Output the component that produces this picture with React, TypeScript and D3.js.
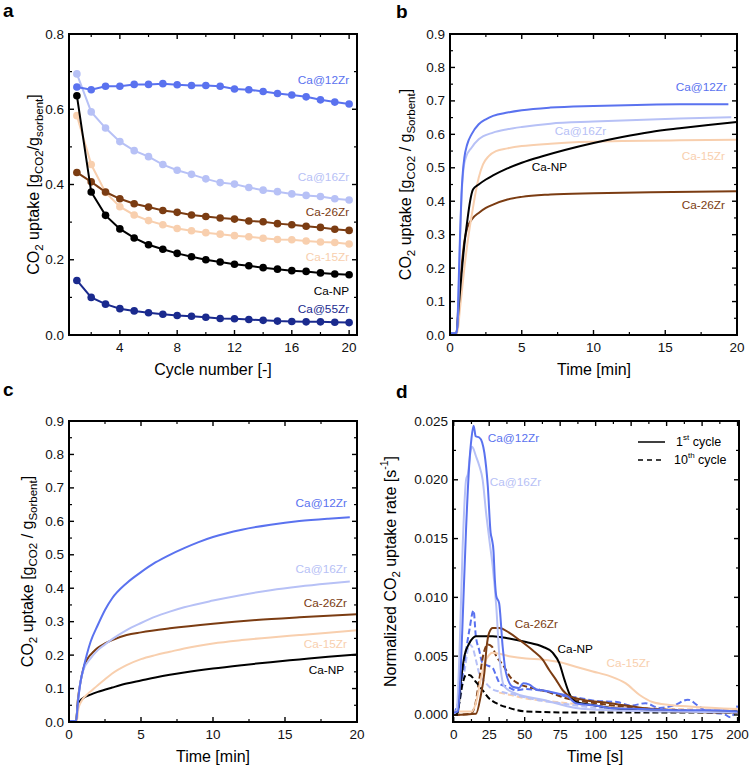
import React from 'react';
import * as d3 from 'd3';

type Pt = [number, number];

// ---------- Panel a data ----------
const cycles = [1, 2, 3, 4, 5, 6, 7, 8, 9, 10, 11, 12, 13, 14, 15, 16, 17, 18, 19, 20];
const aCa12Zr = [0.659, 0.652, 0.661, 0.661, 0.666, 0.666, 0.668, 0.665, 0.663, 0.663, 0.661, 0.654, 0.652, 0.647, 0.642, 0.638, 0.633, 0.625, 0.619, 0.614];
const aCa16Zr = [0.694, 0.593, 0.55, 0.514, 0.49, 0.474, 0.453, 0.438, 0.427, 0.415, 0.405, 0.401, 0.392, 0.385, 0.381, 0.375, 0.371, 0.368, 0.362, 0.359];
const aCa26Zr = [0.432, 0.407, 0.38, 0.362, 0.349, 0.34, 0.331, 0.326, 0.319, 0.315, 0.311, 0.308, 0.303, 0.301, 0.296, 0.293, 0.289, 0.286, 0.281, 0.278];
const aCa15Zr = [0.583, 0.453, 0.379, 0.341, 0.319, 0.304, 0.293, 0.283, 0.277, 0.272, 0.268, 0.264, 0.261, 0.257, 0.254, 0.253, 0.25, 0.247, 0.246, 0.242];
const aCaNP = [0.636, 0.38, 0.318, 0.282, 0.258, 0.24, 0.228, 0.217, 0.208, 0.2, 0.194, 0.188, 0.184, 0.179, 0.175, 0.171, 0.169, 0.165, 0.162, 0.16];
const aCa55Zr = [0.145, 0.1, 0.082, 0.07, 0.064, 0.059, 0.055, 0.052, 0.05, 0.047, 0.044, 0.043, 0.041, 0.039, 0.037, 0.036, 0.035, 0.035, 0.034, 0.033];

// ---------- Panel b data (time [min], uptake) ----------
const bCa12Zr: Pt[] = [[0, 0.005], [0.4, 0.005], [0.5, 0.02], [0.6, 0.15], [0.7, 0.3], [0.8, 0.42], [0.9, 0.49], [1.0, 0.53], [1.2, 0.57], [1.5, 0.6], [2, 0.63], [2.5, 0.645], [3, 0.655], [4, 0.665], [5, 0.672], [7, 0.68], [10, 0.685], [13, 0.688], [16, 0.69], [19.4, 0.69]];
const bCa16Zr: Pt[] = [[0, 0.005], [0.45, 0.005], [0.55, 0.05], [0.65, 0.2], [0.75, 0.35], [0.85, 0.45], [0.95, 0.5], [1.1, 0.53], [1.5, 0.56], [2, 0.585], [3, 0.605], [4, 0.615], [5, 0.622], [7, 0.632], [10, 0.638], [13, 0.643], [16, 0.647], [19.6, 0.651]];
const bCaNP: Pt[] = [[0, 0.005], [0.45, 0.005], [0.6, 0.08], [0.8, 0.18], [1.0, 0.27], [1.2, 0.34], [1.4, 0.4], [1.6, 0.435], [2, 0.45], [2.5, 0.465], [3, 0.477], [4, 0.498], [5, 0.515], [6.5, 0.535], [8, 0.553], [10, 0.574], [12, 0.592], [14, 0.607], [16, 0.618], [18, 0.628], [20, 0.637]];
const bCa15Zr: Pt[] = [[0, 0.005], [0.5, 0.005], [0.7, 0.08], [1.0, 0.2], [1.3, 0.3], [1.6, 0.38], [1.8, 0.43], [2.0, 0.47], [2.3, 0.51], [2.7, 0.535], [3.2, 0.55], [4, 0.558], [5, 0.565], [7, 0.572], [9, 0.577], [12, 0.58], [16, 0.582], [20, 0.584]];
const bCa26Zr: Pt[] = [[0, 0.005], [0.45, 0.005], [0.6, 0.1], [0.8, 0.2], [1.0, 0.28], [1.2, 0.32], [1.5, 0.345], [2, 0.365], [2.5, 0.38], [3, 0.39], [4, 0.405], [5, 0.413], [7, 0.42], [10, 0.424], [14, 0.427], [20, 0.43]];

// ---------- Panel c data ----------
const cCa12Zr: Pt[] = [[0, 0.003], [0.5, 0.003], [0.6, 0.05], [0.8, 0.12], [1, 0.16], [1.5, 0.24], [2, 0.29], [2.5, 0.335], [3, 0.37], [4, 0.415], [5, 0.448], [6, 0.477], [7, 0.5], [8, 0.52], [9, 0.538], [10, 0.553], [12, 0.575], [14, 0.59], [16, 0.601], [18, 0.608], [19.5, 0.612]];
const cCa16Zr: Pt[] = [[0, 0.003], [0.5, 0.003], [0.6, 0.05], [0.8, 0.12], [1, 0.155], [1.5, 0.19], [2, 0.215], [2.5, 0.232], [3, 0.248], [4, 0.275], [5, 0.296], [6, 0.315], [7, 0.33], [8, 0.343], [10, 0.363], [12, 0.38], [14, 0.394], [16, 0.405], [18, 0.414], [19.5, 0.42]];
const cCa26Zr: Pt[] = [[0, 0.003], [0.5, 0.003], [0.6, 0.06], [0.8, 0.12], [1, 0.16], [1.3, 0.19], [1.7, 0.21], [2, 0.222], [2.5, 0.235], [3, 0.245], [4, 0.26], [5, 0.268], [7, 0.28], [10, 0.294], [13, 0.305], [16, 0.313], [20, 0.322]];
const cCa15Zr: Pt[] = [[0, 0.003], [0.55, 0.003], [0.65, 0.04], [0.9, 0.065], [1.2, 0.08], [1.6, 0.095], [2, 0.11], [2.5, 0.128], [3, 0.145], [4, 0.17], [5, 0.188], [6, 0.2], [7, 0.21], [8, 0.22], [10, 0.235], [12, 0.245], [14, 0.253], [16, 0.26], [18, 0.267], [20, 0.274]];
const cCaNP: Pt[] = [[0, 0.003], [0.5, 0.003], [0.6, 0.05], [0.8, 0.065], [1, 0.072], [1.5, 0.082], [2, 0.09], [3, 0.103], [4, 0.115], [5, 0.124], [6, 0.133], [7, 0.141], [8, 0.148], [10, 0.16], [12, 0.17], [14, 0.179], [16, 0.187], [18, 0.195], [20, 0.202]];

// ---------- Panel d data (time [s], rate) ----------
const dCa12Zr1: Pt[] = [[0, 0.0002], [3, 0.0003], [5, 0.004], [6.5, 0.0087], [8.7, 0.0158], [11, 0.0214], [12.5, 0.0235], [14, 0.0246], [15.5, 0.0237], [18, 0.0236], [20, 0.0232], [21.6, 0.0223], [24, 0.0195], [26, 0.0155], [27, 0.0149], [28, 0.014], [29, 0.0115], [30, 0.0101], [32, 0.0095], [34.5, 0.0058], [36.8, 0.0036], [41.5, 0.0024], [46, 0.0023], [49, 0.0027], [53, 0.0026], [58, 0.0022], [62.7, 0.0021], [74, 0.0018], [80, 0.0016], [86, 0.001], [100, 0.0008], [110, 0.0006], [133, 0.0005], [160, 0.0004], [180, 0.0004], [200, 0.0003]];
const dCa16Zr1: Pt[] = [[0, 0.0001], [2, 0.0003], [4, 0.005], [6.3, 0.0143], [8.7, 0.02], [10, 0.0205], [12, 0.0225], [13, 0.0228], [15.7, 0.022], [18, 0.0212], [20.4, 0.02], [22.8, 0.0172], [25, 0.015], [27.5, 0.0126], [30, 0.0092], [32, 0.0053], [35.7, 0.0024], [44, 0.0018], [62.7, 0.0013], [86, 0.0006], [110, 0.0004], [150, 0.0003], [200, 0.0002]];
const dCaNP1: Pt[] = [[0, 0], [2.8, 0.0002], [5.2, 0.003], [7.5, 0.005], [11, 0.0061], [15.7, 0.0067], [27.5, 0.0067], [39, 0.0065], [51, 0.0062], [62.7, 0.0058], [69.7, 0.0053], [74.4, 0.0044], [78, 0.003], [81.5, 0.0018], [86, 0.0011], [98, 0.00085], [110, 0.0006], [133, 0.0004], [157, 0.0003], [200, 0.0003]];
const dCa26Zr1: Pt[] = [[0, 0], [15.7, 0.0001], [19, 0.0016], [21.6, 0.0036], [23.2, 0.0058], [25, 0.007], [27.5, 0.0074], [32, 0.0074], [39, 0.007], [46, 0.0064], [55.6, 0.0055], [62.7, 0.0047], [67.4, 0.0038], [72, 0.003], [76.8, 0.0021], [81.5, 0.0016], [90.8, 0.0013], [110, 0.001], [133, 0.0006], [157, 0.0003], [200, 0.0002]];
const dCa15Zr1: Pt[] = [[0, 0.0003], [13, 0.0003], [16, 0.0012], [19, 0.003], [22, 0.0045], [25, 0.0051], [27, 0.0053], [39, 0.005], [51, 0.0048], [62.7, 0.0047], [74.4, 0.0045], [86, 0.0041], [98, 0.0037], [110, 0.0033], [121, 0.0027], [131, 0.0017], [140, 0.0011], [152, 0.00085], [168, 0.0007], [200, 0.0005]];
const dCa12Zr10: Pt[] = [[0, 0.0001], [4, 0.0015], [7.5, 0.0045], [11, 0.0072], [14, 0.0089], [15.5, 0.0068], [18, 0.0055], [20, 0.0045], [24, 0.0042], [27.5, 0.004], [30, 0.0033], [33, 0.0026], [38, 0.0024], [44, 0.0021], [50, 0.0022], [60, 0.0021], [70, 0.0019], [78, 0.0016], [86, 0.0015], [100, 0.0012], [115, 0.0011], [125, 0.0008], [135, 0.001], [145, 0.0006], [155, 0.0008], [165, 0.0013], [172, 0.0008], [180, 0.0002], [190, 0.0001], [195, -0.0002], [200, 0.0008]];
const dCa16Zr10: Pt[] = [[0, 0], [4, 0.001], [8, 0.004], [11, 0.006], [13, 0.0058], [16, 0.0045], [18, 0.0035], [22, 0.0028], [27, 0.0022], [32, 0.002], [40, 0.0018], [50, 0.0015], [62, 0.0012], [75, 0.001], [86, 0.0008], [110, 0.0005], [150, 0.0004], [200, 0.0002]];
const dCaNP10: Pt[] = [[0, 0], [2.8, 0.0004], [6.3, 0.0027], [8.7, 0.0034], [11, 0.0034], [15.7, 0.0028], [20.4, 0.0021], [25, 0.0014], [30, 0.001], [39, 0.0006], [51, 0.0003], [86, 0.0002], [200, 0.0002]];
const dCa26Zr10: Pt[] = [[0, 0], [12, 0.0001], [15, 0.0008], [18, 0.003], [21, 0.0052], [24, 0.006], [27, 0.0058], [30, 0.005], [35, 0.0042], [40, 0.0032], [45, 0.0027], [55, 0.0023], [65, 0.002], [80, 0.0014], [100, 0.001], [130, 0.0006], [160, 0.0004], [200, 0.0002]];
const dCa15Zr10: Pt[] = [[32, 0.0019], [40, 0.0017], [51, 0.0014], [65, 0.0012], [80, 0.001], [100, 0.0008], [130, 0.0006], [160, 0.0005], [200, 0.0004]];

// ---------- Tick values ----------
const aXTicks = [4, 8, 12, 16, 20];
const aXMinor = [2, 6, 10, 14, 18];
const aYTicks = [0, 0.2, 0.4, 0.6, 0.8];
const aYMinor = [0.1, 0.3, 0.5, 0.7];
const bcXTicks = [0, 5, 10, 15, 20];
const bcXMinor = [2.5, 7.5, 12.5, 17.5];
const bcYTicks = [0, 0.1, 0.2, 0.3, 0.4, 0.5, 0.6, 0.7, 0.8, 0.9];
const bcYMinor = [0.05, 0.15, 0.25, 0.35, 0.45, 0.55, 0.65, 0.75, 0.85];
const dXTicks = [0, 25, 50, 75, 100, 125, 150, 175, 200];
const dXMinor = [12.5, 37.5, 62.5, 87.5, 112.5, 137.5, 162.5, 187.5];
const dYTicks = [0, 0.005, 0.01, 0.015, 0.02, 0.025];
const dYMinor = [0.0025, 0.0075, 0.0125, 0.0175, 0.0225];

// ---------- Styles ----------
const FONT = "'Liberation Sans', Arial, Helvetica, sans-serif";
const C12 = '#5a72ef';
const C16 = '#b7c1f6';
const C26 = '#7b3c12';
const C15 = '#f8cfae';
const CNP = '#000000';
const C55 = '#1a2a8e';
const TICK_FS = 13.5;
const TITLE_FS = 16;
const LABEL_FS = 11.8;

type Scale = d3.ScaleLinear<number, number>;

function Frame(props: {
  sx: Scale; sy: Scale;
  xT: number[]; xM: number[]; yT: number[]; yM: number[];
  xf: (v: number) => string; yf: (v: number) => string;
}) {
  const { sx, sy, xT, xM, yT, yM, xf, yf } = props;
  const [x0, x1] = sx.range();
  const [y0, y1] = sy.range();
  const L = 5, m = 3;
  const els: React.ReactNode[] = [];
  xT.forEach((v, i) => {
    const x = sx(v);
    els.push(<line key={'xt' + i} x1={x} x2={x} y1={y0} y2={y0 - L} stroke="#000" strokeWidth={1.4} />);
    els.push(<line key={'xtt' + i} x1={x} x2={x} y1={y1} y2={y1 + L} stroke="#000" strokeWidth={1.4} />);
    els.push(<text key={'xl' + i} x={x} y={y0 + 17} textAnchor="middle" fontSize={TICK_FS} fill="#111">{xf(v)}</text>);
  });
  xM.forEach((v, i) => {
    const x = sx(v);
    els.push(<line key={'xm' + i} x1={x} x2={x} y1={y0} y2={y0 - m} stroke="#000" strokeWidth={1.2} />);
    els.push(<line key={'xmt' + i} x1={x} x2={x} y1={y1} y2={y1 + m} stroke="#000" strokeWidth={1.2} />);
  });
  yT.forEach((v, i) => {
    const y = sy(v);
    els.push(<line key={'yt' + i} x1={x0} x2={x0 + L} y1={y} y2={y} stroke="#000" strokeWidth={1.4} />);
    els.push(<line key={'ytr' + i} x1={x1} x2={x1 - L} y1={y} y2={y} stroke="#000" strokeWidth={1.4} />);
    els.push(<text key={'yl' + i} x={x0 - 5} y={y} textAnchor="end" dominantBaseline="central" fontSize={TICK_FS} fill="#111">{yf(v)}</text>);
  });
  yM.forEach((v, i) => {
    const y = sy(v);
    els.push(<line key={'ym' + i} x1={x0} x2={x0 + m} y1={y} y2={y} stroke="#000" strokeWidth={1.2} />);
    els.push(<line key={'ymr' + i} x1={x1} x2={x1 - m} y1={y} y2={y} stroke="#000" strokeWidth={1.2} />);
  });
  els.push(<rect key="frame" x={x0} y={y1} width={x1 - x0} height={y0 - y1} fill="none" stroke="#000" strokeWidth={2} />);
  return <g>{els}</g>;
}

function SeriesLabel({ x, y, text, color, anchor = 'start' }: { x: number; y: number; text: string; color: string; anchor?: string }) {
  return <text x={x} y={y} fill={color} fontSize={LABEL_FS} textAnchor={anchor as any} dominantBaseline="central">{text}</text>;
}

export default function App() {
  const ax = d3.scaleLinear().domain([0.45, 20.55]).range([69, 357]);
  const ay = d3.scaleLinear().domain([0, 0.8]).range([335, 34]);
  const aLine = d3.line<[number, number]>().x(d => ax(d[0])).y(d => ay(d[1]));
  const aSeries: { vals: number[]; color: string }[] = [
    { vals: aCa16Zr, color: C16 },
    { vals: aCa12Zr, color: C12 },
    { vals: aCa15Zr, color: C15 },
    { vals: aCa26Zr, color: C26 },
    { vals: aCaNP, color: CNP },
    { vals: aCa55Zr, color: C55 },
  ];

  const bx = d3.scaleLinear().domain([0, 20]).range([450, 737]);
  const by = d3.scaleLinear().domain([0, 0.9]).range([335, 34]);
  const bLine = d3.line<Pt>().x(d => bx(d[0])).y(d => by(d[1])).curve(d3.curveMonotoneX);

  const cx = d3.scaleLinear().domain([0, 20]).range([69, 357]);
  const cy = d3.scaleLinear().domain([0, 0.9]).range([722, 421]);
  const cLine = d3.line<Pt>().x(d => cx(d[0])).y(d => cy(d[1])).curve(d3.curveMonotoneX);

  const dx = d3.scaleLinear().domain([-0.5, 201]).range([453, 739]);
  const dy = d3.scaleLinear().domain([-0.0006, 0.025]).range([722, 421]);
  const dLine = d3.line<Pt>().x(d => dx(d[0])).y(d => dy(d[1])).curve(d3.curveMonotoneX);

  const f1 = (v: number) => d3.format('.1f')(v);
  const f0 = (v: number) => d3.format('d')(v);
  const f3 = (v: number) => d3.format('.3f')(v);

  const sub = (t: string) => <tspan baselineShift="sub" fontSize={11.5}>{t}</tspan>;

  return (
    <svg width={752} height={768} style={{ position: 'absolute', left: 0, top: 0, background: '#fff' }} fontFamily={FONT}>
      <rect x={0} y={0} width={752} height={768} fill="#fff" />
      <defs>
        <clipPath id="clipD"><rect x={453} y={421} width={286} height={301} /></clipPath>
        <clipPath id="clipA"><rect x={69} y={34} width={288} height={301} /></clipPath>
      </defs>
      <text x={3} y={17} fontSize={19} fontWeight="bold">a</text>
      <text x={396} y={18} fontSize={19} fontWeight="bold">b</text>
      <text x={3} y={396} fontSize={19} fontWeight="bold">c</text>
      <text x={396} y={398} fontSize={19} fontWeight="bold">d</text>

      {/* ===== Panel a ===== */}
      <g clipPath="url(#clipA)">
        {aSeries.map((s, i) => {
          const pts: [number, number][] = cycles.map((c, j) => [c, s.vals[j]]);
          return (
            <g key={'as' + i}>
              <path d={aLine(pts) || ''} fill="none" stroke={s.color} strokeWidth={2} />
              {pts.map((p, j) => <circle key={j} cx={ax(p[0])} cy={ay(p[1])} r={3.8} fill={s.color} />)}
            </g>
          );
        })}
      </g>
      <Frame sx={ax} sy={ay} xT={aXTicks} xM={aXMinor} yT={aYTicks} yM={aYMinor} xf={f0} yf={f1} />
      <SeriesLabel x={ax(20)} y={ay(0.678)} text="Ca@12Zr" color={C12} anchor="end" />
      <SeriesLabel x={ax(20)} y={ay(0.42)} text="Ca@16Zr" color={C16} anchor="end" />
      <SeriesLabel x={ax(20)} y={ay(0.327)} text="Ca-26Zr" color={C26} anchor="end" />
      <SeriesLabel x={ax(20)} y={ay(0.207)} text="Ca-15Zr" color={C15} anchor="end" />
      <SeriesLabel x={ax(20)} y={ay(0.117)} text="Ca-NP" color={CNP} anchor="end" />
      <SeriesLabel x={ax(20)} y={ay(0.069)} text="Ca@55Zr" color={C55} anchor="end" />
      <text x={213} y={375} textAnchor="middle" fontSize={TITLE_FS}>Cycle number [-]</text>
      <text transform={`translate(33,${(34 + 335) / 2}) rotate(-90)`} textAnchor="middle" fontSize={TITLE_FS} dominantBaseline="central">
        CO{sub('2')} uptake [g{sub('CO2')}/g{sub('sorbent')}]
      </text>

      {/* ===== Panel b ===== */}
      <path d={bLine(bCa26Zr) || ''} fill="none" stroke={C26} strokeWidth={2} />
      <path d={bLine(bCa15Zr) || ''} fill="none" stroke={C15} strokeWidth={2} />
      <path d={bLine(bCaNP) || ''} fill="none" stroke={CNP} strokeWidth={2} />
      <path d={bLine(bCa16Zr) || ''} fill="none" stroke={C16} strokeWidth={2} />
      <path d={bLine(bCa12Zr) || ''} fill="none" stroke={C12} strokeWidth={2} />
      <Frame sx={bx} sy={by} xT={bcXTicks} xM={bcXMinor} yT={bcYTicks} yM={bcYMinor} xf={f0} yf={f1} />
      <SeriesLabel x={bx(19.3)} y={by(0.742)} text="Ca@12Zr" color={C12} anchor="end" />
      <SeriesLabel x={bx(7.3)} y={by(0.61)} text="Ca@16Zr" color={C16} />
      <SeriesLabel x={bx(5.7)} y={by(0.502)} text="Ca-NP" color={CNP} />
      <SeriesLabel x={bx(19.16)} y={by(0.535)} text="Ca-15Zr" color={C15} anchor="end" />
      <SeriesLabel x={bx(19.16)} y={by(0.389)} text="Ca-26Zr" color={C26} anchor="end" />
      <text x={594} y={375} textAnchor="middle" fontSize={TITLE_FS}>Time [min]</text>
      <text transform={`translate(405,${(34 + 335) / 2}) rotate(-90)`} textAnchor="middle" fontSize={TITLE_FS} dominantBaseline="central">
        CO{sub('2')} uptake [g{sub('CO2')} / g{sub('Sorbent')}]
      </text>

      {/* ===== Panel c ===== */}
      <path d={cLine(cCaNP) || ''} fill="none" stroke={CNP} strokeWidth={2} />
      <path d={cLine(cCa15Zr) || ''} fill="none" stroke={C15} strokeWidth={2} />
      <path d={cLine(cCa26Zr) || ''} fill="none" stroke={C26} strokeWidth={2} />
      <path d={cLine(cCa16Zr) || ''} fill="none" stroke={C16} strokeWidth={2} />
      <path d={cLine(cCa12Zr) || ''} fill="none" stroke={C12} strokeWidth={2} />
      <Frame sx={cx} sy={cy} xT={bcXTicks} xM={bcXMinor} yT={bcYTicks} yM={bcYMinor} xf={f0} yf={f1} />
      <SeriesLabel x={cx(19.3)} y={cy(0.655)} text="Ca@12Zr" color={C12} anchor="end" />
      <SeriesLabel x={cx(19.3)} y={cy(0.4575)} text="Ca@16Zr" color={C16} anchor="end" />
      <SeriesLabel x={cx(19.3)} y={cy(0.356)} text="Ca-26Zr" color={C26} anchor="end" />
      <SeriesLabel x={cx(19.3)} y={cy(0.233)} text="Ca-15Zr" color={C15} anchor="end" />
      <SeriesLabel x={cx(19.1)} y={cy(0.155)} text="Ca-NP" color={CNP} anchor="end" />
      <text x={213} y={762} textAnchor="middle" fontSize={TITLE_FS}>Time [min]</text>
      <text transform={`translate(27,${(421 + 722) / 2}) rotate(-90)`} textAnchor="middle" fontSize={TITLE_FS} dominantBaseline="central">
        CO{sub('2')} uptake [g{sub('CO2')} / g{sub('Sorbent')}]
      </text>

      {/* ===== Panel d ===== */}
      <g clipPath="url(#clipD)">
        <path d={dLine(dCa15Zr10) || ''} fill="none" stroke={C15} strokeWidth={2} strokeDasharray="6,3" />
        <path d={dLine(dCa16Zr10) || ''} fill="none" stroke={C16} strokeWidth={2} strokeDasharray="6,3" />
        <path d={dLine(dCa12Zr10) || ''} fill="none" stroke={C12} strokeWidth={2} strokeDasharray="6,3" />
        <path d={dLine(dCa26Zr10) || ''} fill="none" stroke={C26} strokeWidth={2} strokeDasharray="6,3" />
        <path d={dLine(dCaNP10) || ''} fill="none" stroke={CNP} strokeWidth={2} strokeDasharray="6,3" />
        <path d={dLine(dCa15Zr1) || ''} fill="none" stroke={C15} strokeWidth={2} />
        <path d={dLine(dCaNP1) || ''} fill="none" stroke={CNP} strokeWidth={2} />
        <path d={dLine(dCa26Zr1) || ''} fill="none" stroke={C26} strokeWidth={2} />
        <path d={dLine(dCa16Zr1) || ''} fill="none" stroke={C16} strokeWidth={2} />
        <path d={dLine(dCa12Zr1) || ''} fill="none" stroke={C12} strokeWidth={2} />
      </g>
      <Frame sx={dx} sy={dy} xT={dXTicks} xM={dXMinor} yT={dYTicks} yM={dYMinor} xf={f0} yf={f3} />
      <SeriesLabel x={dx(24)} y={dy(0.02355)} text="Ca@12Zr" color={C12} />
      <SeriesLabel x={dx(25.4)} y={dy(0.0198)} text="Ca@16Zr" color={C16} />
      <SeriesLabel x={dx(43)} y={dy(0.00776)} text="Ca-26Zr" color={C26} />
      <SeriesLabel x={dx(73.2)} y={dy(0.00563)} text="Ca-NP" color={CNP} />
      <SeriesLabel x={dx(107.7)} y={dy(0.00444)} text="Ca-15Zr" color={C15} />
      <line x1={638} x2={665} y1={442} y2={442} stroke="#000" strokeWidth={1.5} />
      <text x={676} y={442} fontSize={12.5} dominantBaseline="central">1<tspan baselineShift="super" fontSize={8}>st</tspan> cycle</text>
      <line x1={638} x2={665} y1={460} y2={460} stroke="#000" strokeWidth={1.5} strokeDasharray="5,4" />
      <text x={674} y={460} fontSize={12.5} dominantBaseline="central">10<tspan baselineShift="super" fontSize={8}>th</tspan> cycle</text>
      <text x={595} y={762} textAnchor="middle" fontSize={TITLE_FS}>Time [s]</text>
      <text transform={`translate(390,${(421 + 722) / 2}) rotate(-90)`} textAnchor="middle" fontSize={TITLE_FS} dominantBaseline="central">
        Normalized CO{sub('2')} uptake rate [s<tspan baselineShift="super" fontSize={10.5}>-1</tspan>]
      </text>
    </svg>
  );
}
